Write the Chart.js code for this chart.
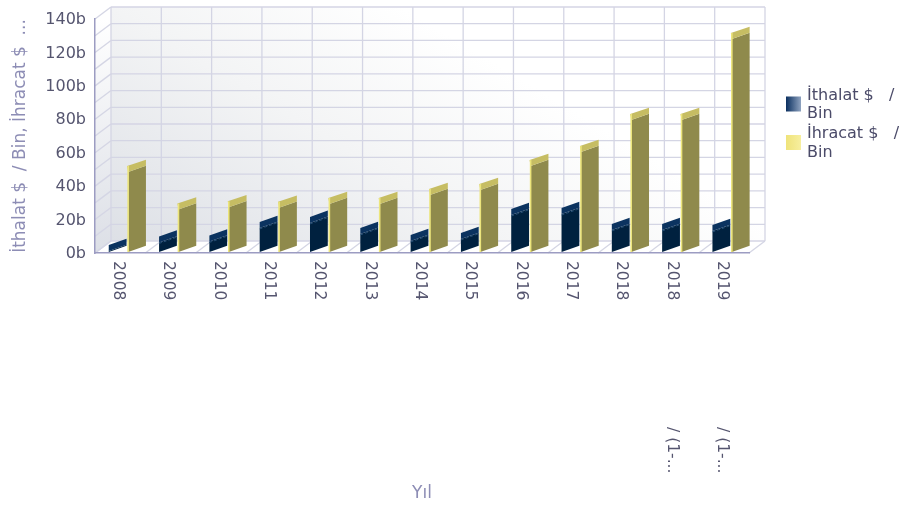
<!DOCTYPE html>
<html><head><meta charset="utf-8">
<style>html,body{margin:0;padding:0;background:#fff}canvas{display:block;filter:blur(0.4px)}</style>
<script src="https://cdn.jsdelivr.net/npm/chart.js@4"></script>
</head><body><canvas id="c" width="899" height="509"></canvas>
<script>
const categories = ['2008','2009','2010','2011','2012','2013','2014','2015','2016','2017','2018','2018 / (1-...','2019 / (1-...'];
const ithalat = [1.2,6.3,6.9,15,18,11.4,7.2,8.4,22.7,23.3,13.8,13.8,13.2];
const ihracat = [48.5,26,27.3,27,29.3,29.3,34.7,37.7,52,60.4,79.6,79.6,128];
const seriesNames = ['İthalat $ / Bin','İhracat $ / Bin'];
const legendLines = [['İthalat $   /','Bin'],['İhracat $   /','Bin']];
const yTitle = 'İthalat $  / Bin, İhracat $  ...';
const xTitle = 'Yıl';

const DX = 16, DY = 12, FONT = '"DejaVu Sans"', TICK = '#55556f', TITLE = '#8d8db5', GRID = '#d4d5e4';

function poly(ctx, pts, fill){
  ctx.beginPath(); pts.forEach((p,i)=> i?ctx.lineTo(p[0],p[1]):ctx.moveTo(p[0],p[1])); ctx.closePath();
  ctx.fillStyle = fill; ctx.fill();
}
function line(ctx,x1,y1,x2,y2){ctx.beginPath();ctx.moveTo(x1,y1);ctx.lineTo(x2,y2);ctx.stroke();}

const walls = {
  id:'walls',
  beforeDraw(chart){
    const {ctx, chartArea:a, scales:{x,y}} = chart;
    const l=a.left,r=a.right,t=a.top,b=a.bottom;
    ctx.save();
    let g = ctx.createLinearGradient(l+DX,b-DY,l+DX+180,b-DY-300);
    g.addColorStop(0,'#dde0e6'); g.addColorStop(.57,'#f3f4f5'); g.addColorStop(1,'#ffffff');
    poly(ctx,[[l+DX,t-DY],[r+DX,t-DY],[r+DX,b-DY],[l+DX,b-DY]],g);
    g = ctx.createLinearGradient(0,b,0,t);
    g.addColorStop(0,'#dcdfe6'); g.addColorStop(1,'#ffffff');
    poly(ctx,[[l,t],[l+DX,t-DY],[l+DX,b-DY],[l,b]],g);
    ctx.strokeStyle=GRID; ctx.lineWidth=1.3;
    y.ticks.forEach(tk=>{
      const p=y.getPixelForValue(tk.value);
      line(ctx,l,p,l+DX,p-DY); line(ctx,l+DX,p-DY,r+DX,p-DY);
    });
    const step=(r-l)/categories.length;
    for(let i=0;i<=categories.length;i++){
      const p=l+i*step;
      line(ctx,p+DX,t-DY,p+DX,b-DY); line(ctx,p+DX,b-DY,p,b);
    }
    ctx.restore();
  },
  afterDatasetsDraw(chart){
    const {ctx, chartArea:a, scales:{x}} = chart;
    ctx.save();
    const styles=[{face:'#00213f',top:'#0b3360',edge:null,seam:'#2f5a84'},{face:'#8f8a4c',top:'#c6bd63',edge:'#ece57c',seam:null}];
    [0,1].forEach(ds=>{
      chart.getDatasetMeta(ds).data.forEach(bar=>{
        const s=styles[ds], x0=bar.x-bar.width/2+DX/2-(ds?0:.4), x1=x0+bar.width-1.2, rise=6.3;
        const yT=bar.y, yB=bar.base-1;
        poly(ctx,[[x0,yB],[x1,yB-rise],[x1,yT-rise],[x0,yT]],s.face);
        poly(ctx,[[x0-(ds?1:0),yT-6],[x1,yT-rise-6],[x1,yT-rise],[x0,yT]],s.top);
        if(s.edge){ctx.strokeStyle=s.edge;ctx.lineWidth=1.6;line(ctx,x0,yB,x0,yT-6);}
        if(s.seam && yT<yB-3){ctx.strokeStyle=s.seam;ctx.lineWidth=.8;ctx.setLineDash([3,2]);line(ctx,x0,yT+1,x1,yT-rise+1);ctx.setLineDash([]);}
      });
    });
    ctx.fillStyle=TICK; ctx.font='15.5px '+FONT; ctx.textAlign='left'; ctx.textBaseline='middle';
    categories.forEach((_,i)=>{
      const lab=x.getLabelForValue(i), cut=lab.indexOf(' '), px=x.getPixelForValue(i)-2;
      const draw=(t,yy)=>{ctx.save();ctx.translate(px,yy);ctx.rotate(Math.PI/2);ctx.fillText(t,0,0);ctx.restore();};
      draw(cut<0?lab:lab.slice(0,cut),261);
      if(cut>=0) draw(lab.slice(cut+1),427);
    });
    const ly=[96.5,135];
    const gr=[['#0a2f5f','#8fa3c0'],['#efe37a','#f7ef9f']];
    seriesNames.forEach((_,i)=>{
      const g=ctx.createLinearGradient(786,0,801,0);
      g.addColorStop(0,gr[i][0]);g.addColorStop(1,gr[i][1]);
      ctx.fillStyle=g;ctx.fillRect(786,ly[i],15,15);
      ctx.fillStyle='#4b4b69';ctx.font='16px '+FONT;
      legendLines[i].forEach((t,j)=>ctx.fillText(t,807,ly[i]-1+j*18.5));
    });
    ctx.restore();
  }
};

new Chart(document.getElementById('c'),{
  type:'bar',
  data:{labels:categories,datasets:[
    {label:seriesNames[0],data:ithalat,backgroundColor:'rgba(0,0,0,0)',borderWidth:0},
    {label:seriesNames[1],data:ihracat,backgroundColor:'rgba(0,0,0,0)',borderWidth:0}
  ]},
  options:{
    responsive:false,animation:false,devicePixelRatio:1,
    layout:{padding:{top:19,right:150,left:0,bottom:0}},
    plugins:{legend:{display:false},tooltip:{enabled:false}},
    datasets:{bar:{categoryPercentage:.755,barPercentage:1}},
    scales:{
      x:{
        grid:{display:false},border:{display:true,color:'#9c9cc2',width:1.5},
        ticks:{display:false},
        title:{display:true,text:xTitle,color:TITLE,font:{family:FONT,size:17},padding:{top:0,bottom:5}},
        afterFit(s){s.height=256;}
      },
      y:{
        min:0,max:140,
        grid:{display:false},border:{display:true,color:'#9c9cc2',width:1.5},
        ticks:{stepSize:10,autoSkip:false,padding:1,labelOffset:1,color:TICK,font:{family:FONT,size:16},callback:v=>v%20?'':v+'b'},
        title:{display:true,text:yTitle,color:TITLE,font:{family:FONT,size:17},padding:{top:10,bottom:0}},
        afterFit(s){s.width=95;}
      }
    }
  },
  plugins:[walls]
});
</script></body></html>
